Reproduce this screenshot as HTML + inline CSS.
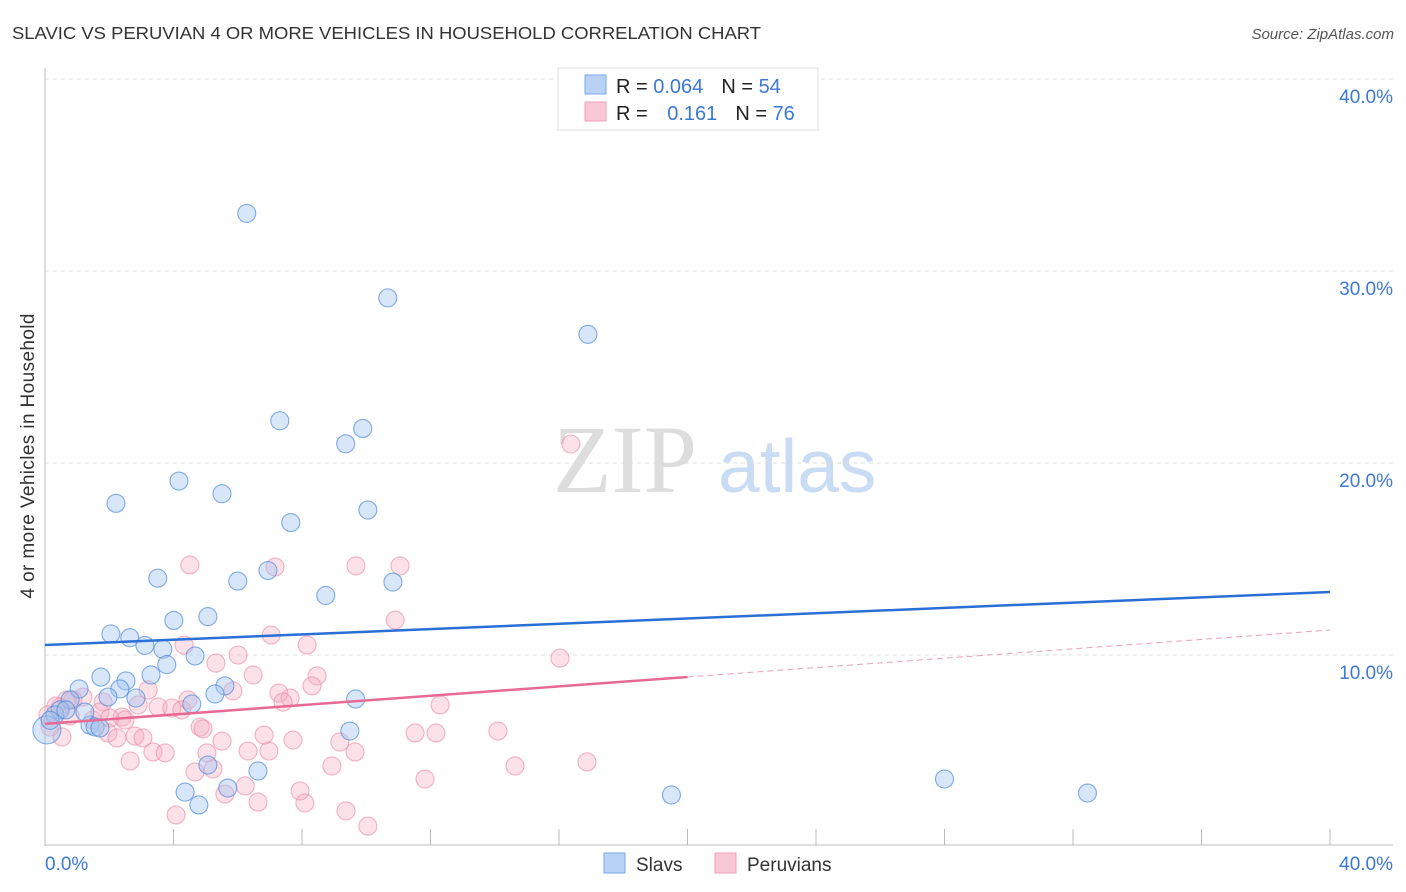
<!DOCTYPE html>
<html><head><meta charset="utf-8"><style>
body{margin:0;background:#fff;font-family:"Liberation Sans",sans-serif}
svg{display:block}
</style></head><body>
<svg id="chart" width="1406" height="892">
<text x="12" y="39" font-size="17.5" fill="#333" textLength="749" lengthAdjust="spacingAndGlyphs">SLAVIC VS PERUVIAN 4 OR MORE VEHICLES IN HOUSEHOLD CORRELATION CHART</text>
<text x="1394" y="39" font-size="15" fill="#555" font-style="italic" text-anchor="end">Source: ZipAtlas.com</text>
<text x="0" y="0" transform="translate(34,456) rotate(-90)" font-size="19" fill="#333" text-anchor="middle" textLength="285">4 or more Vehicles in Household</text>
<g><text x="553" y="492" font-family="Liberation Serif,serif" font-size="96" fill="#ddd">ZIP</text><text x="718" y="492" font-size="75" fill="#c9dcf3">atlas</text></g>
<g id="grid"></g><g id="axes"></g><g id="pts"></g><g id="lines"></g>
<g>
<rect x="558" y="68" width="260" height="62" fill="#fff" stroke="#ddd"/>
<rect x="585" y="75" width="21" height="19" fill="#b8d2f5" stroke="#7aa8e6"/>
<rect x="585" y="102" width="21" height="19" fill="#f9c8d6" stroke="#f0a0b8"/>
<text x="616" y="93" font-size="20" fill="#222">R = <tspan fill="#3b78d8">0.064</tspan><tspan dx="18">N = </tspan><tspan fill="#3b78d8">54</tspan></text>
<text x="616" y="120" font-size="20" fill="#222">R = <tspan dx="14" fill="#3b78d8">0.161</tspan><tspan dx="18">N = </tspan><tspan fill="#3b78d8"> 76</tspan></text>
</g>
<g>
<rect x="604" y="853" width="21" height="20" fill="#b8d2f5" stroke="#7aa8e6"/>
<text x="636" y="871" font-size="19" fill="#333">Slavs</text>
<rect x="715" y="853" width="21" height="20" fill="#f9c8d6" stroke="#f0a0b8"/>
<text x="747" y="871" font-size="19" fill="#333">Peruvians</text>
</g>
</svg>
<script>
const blueX=[6.28,10.67,16.9,7.31,9.89,9.36,4.17,5.51,2.21,10.05,7.65,3.51,6.0,6.94,10.83,8.74,4.01,5.07,2.05,2.64,3.11,3.67,4.67,3.79,1.74,2.52,3.3,1.06,2.33,1.96,2.83,5.6,5.29,4.57,9.67,0.78,0.47,0.31,1.4,9.49,5.07,6.63,4.36,5.69,4.79,19.5,28.0,32.45,0.06,0.65,0.16,1.56,1.24,1.71];
const blueY=[33.0,28.6,26.7,22.2,21.8,21.0,19.06,18.4,17.9,17.55,16.9,14.0,13.85,14.4,13.8,13.1,11.8,12.0,11.1,10.9,10.5,10.3,9.95,9.5,8.85,8.65,8.96,8.23,8.23,7.81,7.76,8.39,7.97,7.45,7.71,7.66,7.14,6.88,6.35,6.04,4.27,3.96,2.86,3.07,2.19,2.71,3.54,2.81,6.1,7.14,6.6,6.25,7.03,6.2];
const pinkX=[4.51,7.16,9.68,11.05,10.9,7.04,4.33,8.16,5.32,6.01,6.48,8.47,8.31,3.21,5.85,7.28,7.63,7.41,12.3,3.52,3.95,4.26,2.9,1.81,1.18,2.4,2.49,4.83,4.92,11.52,12.17,6.82,5.51,7.72,9.18,1.96,2.24,2.8,3.05,6.32,6.97,9.65,3.36,3.74,2.65,5.04,8.93,4.67,5.23,11.83,6.23,5.6,7.94,8.09,6.63,9.37,4.08,10.05,0.53,0.16,0.47,0.87,1.49,16.37,16.03,14.1,14.63,16.87,4.45,0.68,1.71,0.34,0.09,0.78,2.02];
const pinkY=[14.69,14.58,14.64,14.64,11.82,11.04,10.52,10.52,9.58,10.0,8.96,8.91,8.39,8.18,8.13,8.02,7.76,7.55,7.4,7.29,7.24,7.14,7.4,7.55,7.81,6.77,6.61,6.25,6.15,5.94,5.94,5.83,5.52,5.57,5.47,5.94,5.68,5.78,5.68,5.0,5.0,4.95,4.95,4.9,4.48,4.9,4.22,3.91,4.06,3.54,3.18,2.76,2.92,2.29,2.34,1.88,1.67,1.09,5.73,6.25,7.29,7.66,6.61,20.99,9.84,6.04,4.22,4.43,7.66,7.66,7.03,7.34,6.88,6.82,6.72];
const blueLine=[10.52,13.28];
const pinkLine=[6.41,11.3];
const yTicks=[10,20,30,40];
const yTickLabels=["10.0%","20.0%","30.0%","40.0%"];
const NS="http://www.w3.org/2000/svg";
const sx=v=>45+v*1285/40, sy=v=>847-v*19.2;
function mk(tag,at,parent){const e=document.createElementNS(NS,tag);for(const k in at)e.setAttribute(k,at[k]);document.getElementById(parent).appendChild(e);return e;}
yTicks.forEach((t,i)=>{
 const l=mk('line',{x1:45,x2:1393,y1:sy(t),y2:sy(t),stroke:'#ddd','stroke-dasharray':'4,4'},'grid');
 
 
 const tx=mk('text',{x:1393,y:sy(t)+24,'text-anchor':'end','font-size':19,fill:'#3b78d8'},'grid');
 tx.textContent=yTickLabels[i];
 
 
});
mk('line',{x1:45,x2:45,y1:68,y2:846,stroke:'#bbb'},'axes');
mk('line',{x1:45,x2:1393,y1:845,y2:845,stroke:'#bbb'},'axes');
for(let i=1;i<=10;i++){const x=sx(i*4);mk('line',{x1:x,x2:x,y1:829,y2:845,stroke:'#bbb'},'axes');}
let a=mk('text',{x:45,y:870,'font-size':19,fill:'#3b78d8'},'axes');a.textContent='0.0%';


a=mk('text',{x:1393,y:870,'font-size':19,fill:'#3b78d8','text-anchor':'end'},'axes');a.textContent='40.0%';


pinkX.forEach((v,i)=>{const c=mk('circle',{cx:sx(v),cy:sy(pinkY[i]),r:9,fill:'rgba(246,170,192,0.35)',stroke:'rgba(236,140,168,0.65)','stroke-width':1.1},'pts');
 
 });
blueX.forEach((v,i)=>{const c=mk('circle',{cx:sx(v),cy:sy(blueY[i]),r:i==48?14:9,fill:'rgba(160,196,240,0.42)',stroke:'rgba(80,138,218,0.7)','stroke-width':1.1},'pts');
 
 });
let b=mk('line',{x1:sx(0),y1:sy(blueLine[0]),x2:sx(40),y2:sy(blueLine[1]),stroke:'#2a6fd6','stroke-width':2.5},'lines');


const pm=(pinkLine[0]+pinkLine[1])/2;
let p=mk('line',{x1:sx(0),y1:sy(pinkLine[0]),x2:sx(20),y2:sy(pm),stroke:'#e86a94','stroke-width':2.5},'lines');


p=mk('line',{x1:sx(20),y1:sy(pm),x2:sx(40),y2:sy(pinkLine[1]),stroke:'#e8a0b8','stroke-width':1,'stroke-dasharray':'6,4'},'lines');


</script>
</body></html>
